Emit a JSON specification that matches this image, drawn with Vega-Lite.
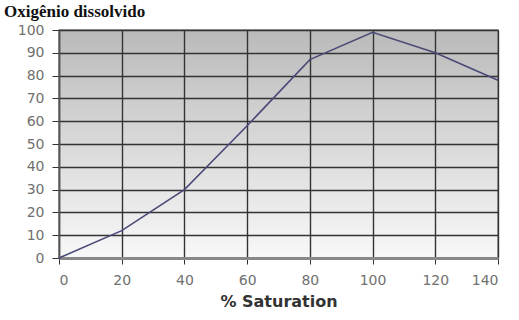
{
  "$schema": "https://vega.github.io/schema/vega-lite/v6.json",
  "width": 439,
  "height": 228,
  "autosize": "none",
  "padding": {"left": 59, "top": 30, "right": 21, "bottom": 62},
  "background": "white",
  "title": {
    "text": "Oxigênio dissolvido",
    "anchor": "start",
    "frame": "group",
    "dx": -55,
    "offset": 2,
    "font": "Liberation Serif",
    "fontSize": 17,
    "fontWeight": "bold",
    "color": "#111"
  },
  "config": {
    "view": {
      "stroke": "#888",
      "strokeWidth": 1.5,
      "fill": {
        "gradient": "linear",
        "x1": 0, "y1": 0, "x2": 0, "y2": 1,
        "stops": [
          {"offset": 0, "color": "#bababa"},
          {"offset": 1, "color": "#f8f8f8"}
        ]
      }
    }
  },
  "data": {
    "values": [
      {"sat": 0, "od": 0},
      {"sat": 20, "od": 12},
      {"sat": 40, "od": 30},
      {"sat": 60, "od": 58},
      {"sat": 80, "od": 87},
      {"sat": 100, "od": 99},
      {"sat": 120, "od": 90},
      {"sat": 140, "od": 78}
    ]
  },
  "mark": {"type": "line", "color": "#4a4a78", "strokeWidth": 1.6},
  "encoding": {
    "x": {
      "field": "sat",
      "type": "quantitative",
      "scale": {"domain": [0, 140], "nice": false},
      "axis": {
        "values": [0, 20, 40, 60, 80, 100, 120, 140],
        "title": "% Saturation",
        "titleFont": "DejaVu Sans",
        "titleFontSize": 16,
        "titleFontWeight": "bold",
        "titleColor": "#333",
        "titlePadding": 6,
        "labelFont": "DejaVu Sans",
        "labelFontSize": 14,
        "labelColor": "#707070",
        "labelPadding": 9,
        "tickColor": "#333",
        "tickSize": 6,
        "domainColor": "#888",
        "domainWidth": 3,
        "gridColor": "#333",
        "gridWidth": 1.4,
        "gridOpacity": 1
      }
    },
    "y": {
      "field": "od",
      "type": "quantitative",
      "scale": {"domain": [0, 100], "nice": false},
      "axis": {
        "values": [0, 10, 20, 30, 40, 50, 60, 70, 80, 90, 100],
        "title": null,
        "labelFont": "DejaVu Sans",
        "labelFontSize": 14,
        "labelColor": "#707070",
        "labelPadding": 8,
        "tickColor": "#333",
        "tickSize": 7,
        "domainColor": "#555",
        "domainWidth": 1.5,
        "gridColor": "#333",
        "gridWidth": 1.4,
        "gridOpacity": 1
      }
    }
  }
}
